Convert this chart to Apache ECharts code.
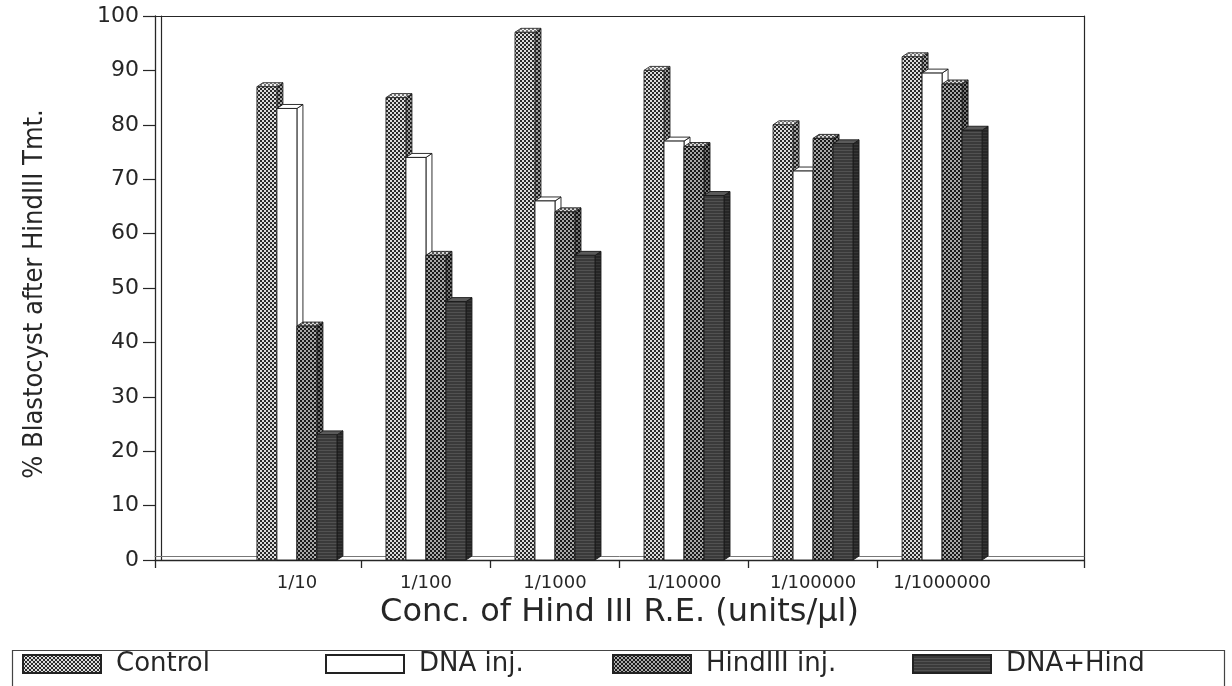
<!DOCTYPE html>
<html>
<head>
<meta charset="utf-8">
<script src="https://cdn.jsdelivr.net/npm/echarts@6/dist/echarts.min.js"></script>
<style>
  html, body { margin: 0; padding: 0; background: #ffffff; }
  #chart { width: 1232px; height: 686px; }
</style>
</head>
<body>
<div id="chart"></div>
<script>
// Hind III restriction enzyme concentration groups
const categories = ['1/10', '1/100', '1/1000', '1/10000', '1/100000', '1/1000000'];
const seriesNames = ['Control', 'DNA inj.', 'HindIII inj.', 'DNA+Hind'];

// % blastocyst development per group
const control = [87, 85, 97, 90, 80, 92.5];
const dnaInj = [83, 74, 66, 77, 71.5, 89.5];
const hindInj = [43, 56, 64, 76, 77.5, 87.5];
const dnaHind = [23, 47.5, 56, 67, 76.5, 79];

// y axis range
const yMin = 0;
const yMax = 100;
const yStep = 10;

// x axis runs in group units with a padded margin at each end
const X_MAX = 7.2;
const GROUP_OFFSET = 1.1;
const BAR_FRAC = 0.155;   // front face width, fraction of one group unit
const DEPTH_X = 6;        // 3D depth offset in px
const DEPTH_Y = 4;

function pattern(w, h, draw) {
  const c = document.createElement('canvas');
  c.width = w; c.height = h;
  draw(c.getContext('2d'));
  return { image: c, repeat: 'repeat' };
}
function checker(bg, dot) {
  return pattern(4, 4, ctx => {
    ctx.fillStyle = bg; ctx.fillRect(0, 0, 4, 4);
    ctx.fillStyle = dot; ctx.fillRect(0, 0, 2, 2); ctx.fillRect(2, 2, 2, 2);
  });
}
function lined(bg, line) {
  return pattern(4, 3, ctx => {
    ctx.fillStyle = bg; ctx.fillRect(0, 0, 4, 3);
    ctx.fillStyle = line; ctx.fillRect(0, 0, 4, 1);
  });
}

const faces = [
  { front: checker('#dcdcdc', '#2a2a2a'), side: checker('#a0a0a0', '#1c1c1c'), top: checker('#f2f2f2', '#777777'), stroke: '#2a2a2a' },
  { front: '#ffffff', side: '#ffffff', top: '#ffffff', stroke: '#1a1a1a' },
  { front: checker('#a8a8a8', '#1a1a1a'), side: checker('#747474', '#111111'), top: checker('#d8d8d8', '#555555'), stroke: '#1e1e1e' },
  { front: lined('#3a3a3a', '#525252'), side: lined('#262626', '#363636'), top: '#5a5a5a', stroke: '#1a1a1a' }
];

function renderer(idx) {
  const f = faces[idx];
  return function (params, api) {
    const xv = api.value(0);
    const yv = api.value(1);
    const band = api.size([1, 0])[0];
    const w = band * BAR_FRAC;
    const basePt = api.coord([xv, 0]);
    const topY = api.coord([xv, yv])[1];
    const baseY = basePt[1];
    const x0 = basePt[0] - 2 * w + idx * w;
    const x1 = x0 + w;
    const lw = 0.9;
    return {
      type: 'group',
      children: [
        { type: 'polygon',
          shape: { points: [[x1, topY], [x1 + DEPTH_X, topY - DEPTH_Y], [x1 + DEPTH_X, baseY - DEPTH_Y], [x1, baseY]] },
          style: { fill: f.side, stroke: f.stroke, lineWidth: lw } },
        { type: 'polygon',
          shape: { points: [[x0, topY], [x0 + DEPTH_X, topY - DEPTH_Y], [x1 + DEPTH_X, topY - DEPTH_Y], [x1, topY]] },
          style: { fill: f.top, stroke: f.stroke, lineWidth: lw } },
        { type: 'rect',
          shape: { x: x0, y: topY, width: w, height: baseY - topY },
          style: { fill: f.front, stroke: f.stroke, lineWidth: lw } }
      ]
    };
  };
}

const allValues = [control, dnaInj, hindInj, dnaHind];
const groupPos = categories.map((c, i) => i + GROUP_OFFSET);
// ticks at both axis ends and on the boundaries between neighbouring groups
const tickPos = [0].concat(groupPos.slice(1).map(p => p - 0.5)).concat([X_MAX]);

const series = allValues.map((vals, k) => ({
  type: 'custom',
  name: seriesNames[k],
  renderItem: renderer(k),
  encode: { x: 0, y: 1 },
  itemStyle: { color: faces[k].front, borderColor: '#222', borderWidth: 1 },
  data: vals.map((v, i) => [groupPos[i], v]),
  z: 2
}));

const fontWide = "'DejaVu Sans', 'Liberation Sans', sans-serif";
const fontNarrow = "'DejaVu Sans Condensed', 'Liberation Sans Narrow', 'DejaVu Sans', sans-serif";
const ink = '#262626';

// one legend block per series so each entry sits in its own slot of the frame
const legendLeft = [22, 325, 612, 912];
const legends = seriesNames.map((n, i) => ({
  data: [n],
  left: legendLeft[i], top: 651, padding: 0,
  icon: 'rect', itemWidth: 78, itemHeight: 18,
  textStyle: { fontSize: 26, fontFamily: fontWide, color: ink, padding: [0, 0, 0, 10] }
}));

const chart = echarts.init(document.getElementById('chart'), null, { renderer: 'canvas' });
chart.setOption({
  backgroundColor: '#ffffff',
  animation: false,
  grid: { left: 155, right: 148, top: 16, bottom: 126 },
  xAxis: [
    {
      type: 'value', min: 0, max: X_MAX, position: 'bottom',
      axisLine: { show: true, onZero: false, lineStyle: { color: ink, width: 1.3 } },
      axisTick: { show: true, customValues: tickPos, length: 8, lineStyle: { color: ink, width: 1.3 } },
      axisLabel: {
        show: true, customValues: groupPos, margin: 14,
        fontSize: 18, fontFamily: fontWide, color: ink,
        formatter: v => categories[Math.round(v - GROUP_OFFSET)] || ''
      },
      splitLine: { show: false },
      name: 'Conc. of Hind III R.E. (units/\u03bcl)',
      nameLocation: 'middle', nameGap: 33,
      nameTextStyle: { fontSize: 32, fontFamily: fontWide, color: ink }
    },
    {
      type: 'value', min: 0, max: X_MAX, position: 'top',
      axisLine: { show: true, onZero: false, lineStyle: { color: ink, width: 1.2 } },
      axisTick: { show: false }, axisLabel: { show: false }, splitLine: { show: false }
    },
    {
      type: 'value', min: 0, max: X_MAX, position: 'bottom', offset: -4,
      axisLine: { show: true, onZero: false, lineStyle: { color: '#777', width: 1 } },
      axisTick: { show: false }, axisLabel: { show: false }, splitLine: { show: false }
    }
  ],
  yAxis: [
    {
      type: 'value', min: yMin, max: yMax, interval: yStep, position: 'left',
      axisLine: { show: true, onZero: false, lineStyle: { color: ink, width: 1.3 } },
      axisTick: { show: true, length: 12, lineStyle: { color: ink, width: 1.2 } },
      axisLabel: { fontSize: 22, fontFamily: fontWide, color: ink, margin: 16 },
      splitLine: { show: false },
      name: '% Blastocyst after HindIII Tmt.',
      nameLocation: 'middle', nameGap: 107, nameRotate: 90,
      nameTextStyle: { fontSize: 27, fontFamily: fontNarrow, color: ink, padding: [0, 12, 0, 0] }
    },
    {
      type: 'value', min: yMin, max: yMax, position: 'right',
      axisLine: { show: true, onZero: false, lineStyle: { color: ink, width: 1.2 } },
      axisTick: { show: false }, axisLabel: { show: false }, splitLine: { show: false }
    },
    {
      type: 'value', min: yMin, max: yMax, position: 'left', offset: -6,
      axisLine: { show: true, onZero: false, lineStyle: { color: ink, width: 1.2 } },
      axisTick: { show: false }, axisLabel: { show: false }, splitLine: { show: false }
    }
  ],
  legend: legends,
  graphic: [
    { type: 'rect', left: 10, top: 648, shape: { width: 1212, height: 36 },
      style: { fill: 'none', stroke: '#444', lineWidth: 1.2 }, silent: true }
  ],
  series: series
});
</script>
</body>
</html>
